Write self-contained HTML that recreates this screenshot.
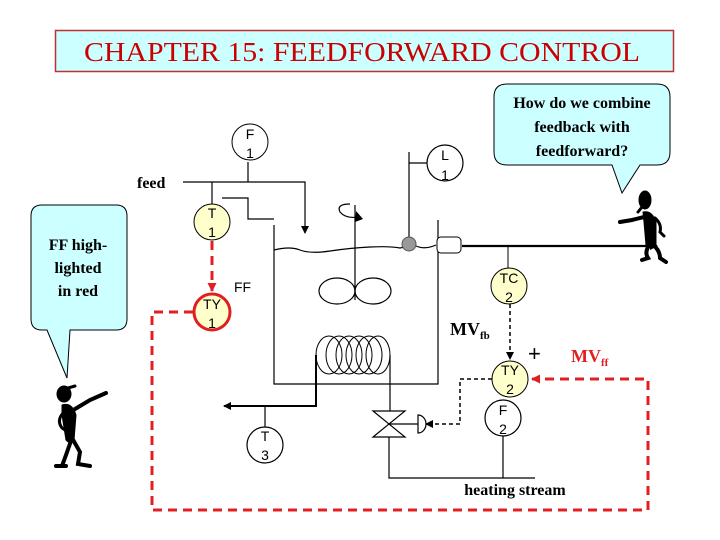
<!DOCTYPE html>
<html><head><meta charset="utf-8"><style>
html,body{margin:0;padding:0;background:#fff;}
svg{display:block;}
.s{font-family:"Liberation Serif",serif;font-weight:bold;}
.a{font-family:"Liberation Sans",sans-serif;font-size:14px;}
</style></head><body>
<svg width="720" height="540" viewBox="0 0 720 540" xmlns="http://www.w3.org/2000/svg">
<defs>
<marker id="ab" markerWidth="8" markerHeight="8" refX="7" refY="4" orient="auto" markerUnits="userSpaceOnUse"><path d="M0,0 L8,4 L0,8 z" fill="#000"/></marker>
<marker id="ar" markerWidth="9" markerHeight="9" refX="8" refY="4.5" orient="auto" markerUnits="userSpaceOnUse"><path d="M0,0 L9,4.5 L0,9 z" fill="#e02020"/></marker>
</defs>
<rect x="55.5" y="30.5" width="618" height="41" fill="#ccffff" stroke="#c03030" stroke-width="1.5"/>
<text x="84" y="61" textLength="556" lengthAdjust="spacingAndGlyphs" font-family="Liberation Serif, serif" font-size="27" fill="#cc0000">CHAPTER 15: FEEDFORWARD CONTROL</text>

<!-- right bubble -->
<path d="M507,84 H657 Q670,84 670,97 V152 Q670,165 657,165 H640 L622,193 L612,165 H507 Q494,165 494,152 V97 Q494,84 507,84 Z" fill="#ccffff" stroke="#000"/>
<text class="s" font-size="16" text-anchor="middle"><tspan x="582" y="108">How do we combine</tspan><tspan x="582" y="132">feedback with</tspan><tspan x="582" y="156">feedforward?</tspan></text>
<!-- left bubble -->
<path d="M42,205 H116 Q127,205 127,216 V319 Q127,330 116,330 H70 L67,378 L47,330 H42 Q31,330 31,319 V216 Q31,205 42,205 Z" fill="#ccffff" stroke="#000"/>
<text class="s" font-size="16" text-anchor="middle"><tspan x="78" y="250">FF high-</tspan><tspan x="78" y="273">lighted</tspan><tspan x="78" y="296">in red</tspan></text>

<!-- feed lines -->
<text x="137" y="188" class="s" font-size="16">feed</text>
<g stroke="#000" stroke-width="1.2" fill="none">
<path d="M183,182 H305 V233" marker-end="url(#ab)"/>
<line x1="248" y1="162" x2="248" y2="182"/>
<line x1="212" y1="182" x2="212" y2="204"/>
<path d="M222,198 H248 V219 H274"/>
<!-- tank -->
<path d="M274,225 V384 H438 V220"/>
<path d="M274,250 Q290,246 300,250 T330,251 T370,247 T400,248 L409,246 M416,246 Q425,250 436,245"/>
<line x1="355" y1="205" x2="355" y2="300"/>
<ellipse cx="337" cy="291" rx="18" ry="13"/>
<ellipse cx="373" cy="291" rx="18" ry="13"/>
<path d="M350,204 Q336,204 340,212 Q346,219 358,217"/>
</g>
<path d="M356,211 L363,219 L355,222 z" fill="#000"/>
<!-- L1 -->
<g stroke="#000" stroke-width="1.2" fill="none">
<line x1="409" y1="152" x2="409" y2="243"/>
<line x1="409" y1="163" x2="427" y2="163"/>
<circle cx="445" cy="163" r="18" fill="#fff"/>
</g>
<circle cx="409" cy="244" r="7" fill="#999" stroke="#555"/>
<rect x="437" y="237" width="24" height="16" rx="4" fill="#fff" stroke="#000"/>
<line x1="462" y1="246" x2="657" y2="246" stroke="#000" stroke-width="2.2" marker-end="url(#ab)"/>
<line x1="508" y1="246" x2="508" y2="268" stroke="#000"/>
<text class="a" text-anchor="middle"><tspan x="445" y="160">L</tspan><tspan x="445" y="180">1</tspan></text>

<!-- F1 -->
<circle cx="250" cy="142" r="18" fill="#fff" stroke="#000"/>
<text class="a" text-anchor="middle"><tspan x="250" y="139">F</tspan><tspan x="250" y="158">1</tspan></text>
<!-- T1 -->
<circle cx="212" cy="222" r="18" fill="#ffffcc" stroke="#000"/>
<text class="a" text-anchor="middle"><tspan x="212" y="218">T</tspan><tspan x="212" y="237">1</tspan></text>
<!-- red dashed -->
<g stroke="#e02020" stroke-width="3" fill="none" stroke-dasharray="9,6">
<line x1="212" y1="241" x2="212" y2="291" marker-end="url(#ar)"/>
<path d="M193,312 H152 V510 H648 V379 H532" marker-end="url(#ar)"/>
</g>
<circle cx="212" cy="312" r="18" fill="#ffffcc" stroke="#e02020" stroke-width="3"/>
<text class="a" text-anchor="middle"><tspan x="212" y="309">TY</tspan><tspan x="212" y="328">1</tspan></text>
<text x="234" y="292" class="a" font-size="15">FF</text>

<!-- TC2 -->
<circle cx="509" cy="286" r="18" fill="#ffffcc" stroke="#000"/>
<text class="a" text-anchor="middle"><tspan x="509" y="283">TC</tspan><tspan x="509" y="302">2</tspan></text>
<g stroke="#000" stroke-width="1.5" fill="none" stroke-dasharray="4,3">
<line x1="510" y1="304" x2="510" y2="359" marker-end="url(#ab)"/>
<path d="M492,379 H460 V424 H426" marker-end="url(#ab)"/>
</g>
<circle cx="510" cy="379" r="18" fill="#ffffcc" stroke="#000"/>
<text class="a" text-anchor="middle"><tspan x="510" y="375">TY</tspan><tspan x="510" y="394">2</tspan></text>
<text x="528" y="361" font-family="Liberation Sans" font-size="22">+</text>
<text x="450" y="335" class="s" font-size="18">MV<tspan font-size="11" dy="4">fb</tspan></text>
<text x="571" y="362" class="s" font-size="18" fill="#e02020">MV<tspan font-size="11" dy="4">ff</tspan></text>

<!-- coil -->
<g stroke="#000" stroke-width="1" fill="none">
<ellipse cx="329" cy="355" rx="13" ry="19"/>
<ellipse cx="339" cy="355" rx="13" ry="19"/>
<ellipse cx="349" cy="355" rx="13" ry="19"/>
<ellipse cx="359" cy="355" rx="13" ry="19"/>
<ellipse cx="369" cy="355" rx="13" ry="19"/>
<ellipse cx="378" cy="355" rx="12" ry="19"/>
</g>
<g stroke="#000" stroke-width="1.2" fill="none">
<path d="M316,355 V406 H224" stroke-width="2" marker-end="url(#ab)"/>
<line x1="265" y1="406" x2="265" y2="427"/>
<circle cx="265" cy="445" r="18" fill="#fff"/>
<path d="M390,355 V411"/>
<path d="M373,411 H405 L373,437 H405 Z"/>
<line x1="389" y1="424" x2="418" y2="424"/>
<path d="M418,415 A8,9 0 0 1 418,433 Z"/>
<path d="M389,437 V478 H535"/>
<line x1="503" y1="436" x2="503" y2="478"/>
<circle cx="503" cy="418" r="18" fill="#fff"/>
</g>
<text class="a" text-anchor="middle"><tspan x="265" y="441">T</tspan><tspan x="265" y="460">3</tspan></text>
<text class="a" text-anchor="middle"><tspan x="503" y="415">F</tspan><tspan x="503" y="434">2</tspan></text>
<text x="515" y="495" class="s" font-size="16" text-anchor="middle">heating stream</text>

<!-- figures -->
<g fill="#000" stroke="#000" stroke-linecap="round">
<ellipse cx="64" cy="394" rx="7" ry="8"/>
<path d="M68,388 L75,386" stroke-width="3"/>
<path d="M62,405 Q72,402 76,415 L74,440 Q70,445 66,440 L62,415 Z"/>
<path d="M70,412 L90,400 L106,393" stroke-width="4" fill="none"/>
<path d="M64,412 Q56,420 62,428 L68,432" stroke-width="3" fill="none"/>
<path d="M72,438 L66,455 L62,466" stroke-width="4" fill="none"/>
<path d="M72,438 L80,452 L78,464 L90,466" stroke-width="4" fill="none"/>
<path d="M56,466 L66,466" stroke-width="4"/>
<ellipse cx="645" cy="200" rx="6" ry="9"/>
<path d="M642,207 L638,212" stroke-width="3"/>
<path d="M643,212 Q652,210 656,222 L656,245 Q650,250 646,245 L644,222 Z"/>
<path d="M648,216 L632,220 L620,222" stroke-width="4" fill="none"/>
<path d="M655,218 Q662,224 660,232 L664,236" stroke-width="3" fill="none"/>
<path d="M650,244 Q644,252 648,258 L642,260" stroke-width="4" fill="none"/>
<path d="M652,244 Q660,250 660,258 L666,262" stroke-width="4" fill="none"/>
</g>
</svg>
</body></html>
